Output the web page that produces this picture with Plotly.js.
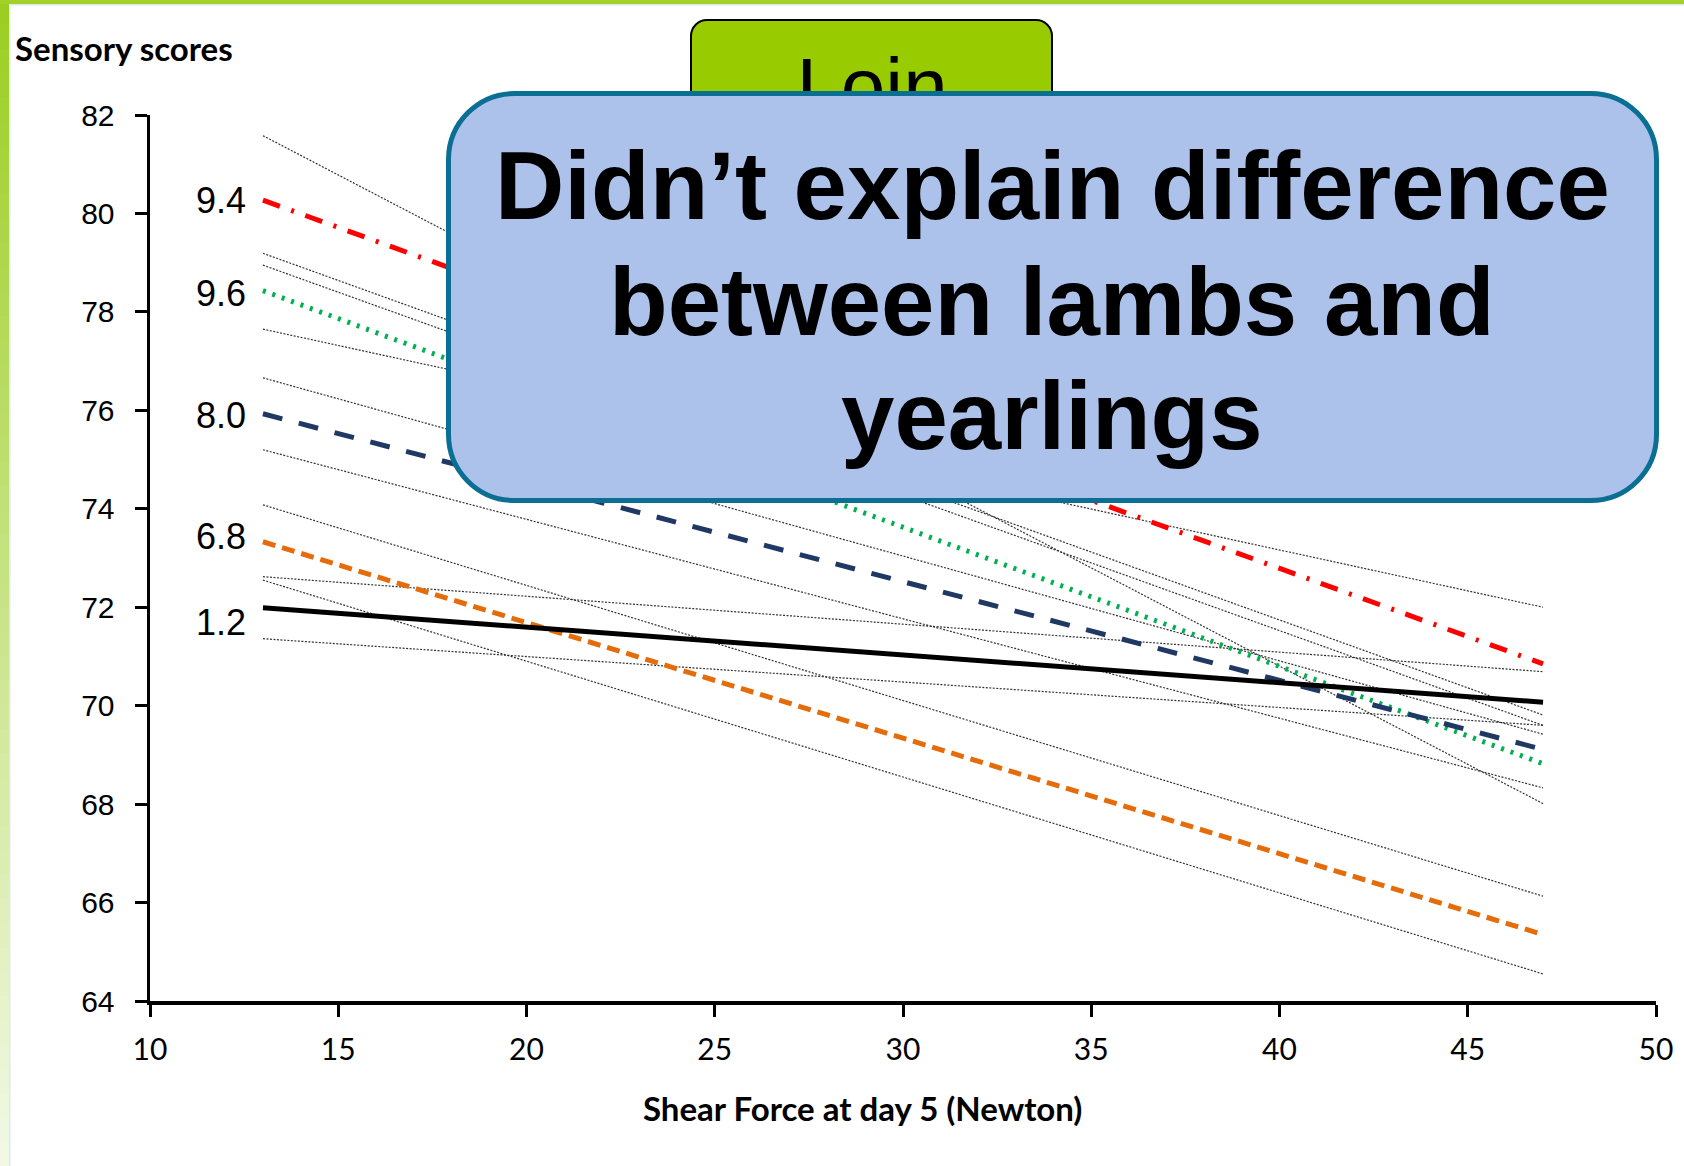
<!DOCTYPE html>
<html>
<head>
<meta charset="utf-8">
<script src="https://cdn.plot.ly/plotly-3.0.1.min.js"></script>
<style>
  html, body { margin: 0; padding: 0; background: #ffffff; }
  #chart { width: 1684px; height: 1166px; }
</style>
</head>
<body>
<div id="chart"></div>
<script>
// Shear force range covered by the regression lines (Newton)
const shearForce = [13, 47];

// Group regression lines: label, score at low and high shear force
const groupLabels = ['9.4', '9.6', '8.0', '6.8', '1.2'];
const groupStart = [80.27, 78.43, 75.93, 73.33, 71.99];
const groupEnd = [70.85, 68.82, 69.11, 65.35, 70.07];

// Individual (thin dotted) regression lines
const individualStart = [81.58, 79.19, 78.95, 77.65, 76.66, 75.20, 74.08, 72.62, 72.55, 71.36];
const individualEnd = [68.01, 69.81, 69.60, 72.00, 69.42, 68.33, 66.13, 70.69, 64.55, 69.60];

// Axis ticks
const xTicks = [10, 15, 20, 25, 30, 35, 40, 45, 50];
const yTicks = [64, 66, 68, 70, 72, 74, 76, 78, 80, 82];

// ---- styling ----
const W = 1684, H = 1166;
const M = { l: 150, r: 28, t: 115, b: 165 };
const PW = W - M.l - M.r, PH = H - M.t - M.b;
const px = x => (x - M.l) / PW;          // page pixel -> paper x
const py = y => 1 - (y - M.t) / PH;      // page pixel -> paper y

const groupStyle = [
  { color: '#ff0000', dash: '18px,12px,3px,12px', yshift: 0 },
  { color: '#00b050', dash: '3px,7px', yshift: -3 },
  { color: '#1f3864', dash: '20px,17px', yshift: -2 },
  { color: '#e46c0a', dash: '13px,7px', yshift: 5 },
  { color: '#000000', dash: 'solid', yshift: -15 }
];

const traces = [];
individualStart.forEach((s, i) => {
  traces.push({
    type: 'scatter', mode: 'lines',
    x: shearForce, y: [s, individualEnd[i]],
    line: { color: '#333333', width: 1.2, dash: '2px,1.5px' },
    hoverinfo: 'skip'
  });
});
groupLabels.forEach((lab, i) => {
  traces.push({
    type: 'scatter', mode: 'lines', name: lab,
    x: shearForce, y: [groupStart[i], groupEnd[i]],
    line: { color: groupStyle[i].color, width: 5, dash: groupStyle[i].dash }
  });
});

// Tab caption, drawn as trace text (on a hidden pixel-scaled overlay axis)
// so that the callout box can sit over its lower half
traces.push({
  type: 'scatter', mode: 'text', xaxis: 'x2', yaxis: 'y2',
  x: [872 - M.l], y: [134 - M.t], text: ['Loin'],
  textposition: 'top center', cliponaxis: false,
  textfont: { family: 'Liberation Sans, Arial', size: 80, color: '#000000' },
  hoverinfo: 'skip'
});

function roundRect(x0, y0, x1, y1, r) {
  const k = 0.5523 * r;
  const P = (x, y) => px(x) + ',' + py(y);
  return 'M' + P(x0 + r, y0) +
    ' L' + P(x1 - r, y0) +
    ' C' + P(x1 - r + k, y0) + ' ' + P(x1, y0 + r - k) + ' ' + P(x1, y0 + r) +
    ' L' + P(x1, y1 - r) +
    ' C' + P(x1, y1 - r + k) + ' ' + P(x1 - r + k, y1) + ' ' + P(x1 - r, y1) +
    ' L' + P(x0 + r, y1) +
    ' C' + P(x0 + r - k, y1) + ' ' + P(x0, y1 - r + k) + ' ' + P(x0, y1 - r) +
    ' L' + P(x0, y0 + r) +
    ' C' + P(x0, y0 + r - k) + ' ' + P(x0 + r - k, y0) + ' ' + P(x0 + r, y0) + ' Z';
}

const shapes = [];
// slide frame: green gradient strip down the left edge and a band along the top
const steps = 48;
const frameTop = [156, 206, 34], frameBottom = [242, 248, 228];
for (let s = 0; s < steps; s++) {
  const t = s / (steps - 1);
  const c = frameTop.map((v, j) => Math.round(v + (frameBottom[j] - v) * t));
  shapes.push({
    type: 'rect', xref: 'paper', yref: 'paper', layer: 'below',
    x0: px(0), x1: px(9), y0: py(H * s / steps), y1: py(H * (s + 1) / steps + 1),
    line: { width: 0 }, fillcolor: 'rgb(' + c.join(',') + ')'
  });
}
shapes.push({ type: 'rect', xref: 'paper', yref: 'paper', layer: 'below',
  x0: px(9), x1: px(10.5), y0: py(0), y1: py(H), line: { width: 0 }, fillcolor: '#dce9ef' });
shapes.push({ type: 'rect', xref: 'paper', yref: 'paper', layer: 'below',
  x0: px(0), x1: px(W), y0: py(0), y1: py(4), line: { width: 0 }, fillcolor: '#a4d02a' });
shapes.push({ type: 'rect', xref: 'paper', yref: 'paper', layer: 'below',
  x0: px(9), x1: px(W), y0: py(4), y1: py(5.5), line: { width: 0 }, fillcolor: '#dce9ef' });

// green tab behind the callout
shapes.push({ type: 'path', xref: 'paper', yref: 'paper', layer: 'below',
  path: roundRect(691, 20, 1052, 160, 16),
  fillcolor: '#99cc00', line: { color: '#000000', width: 2 } });
// callout box
shapes.push({ type: 'path', xref: 'paper', yref: 'paper', layer: 'above',
  path: roundRect(448.5, 93.5, 1656.5, 500.5, 66),
  fillcolor: '#adc2ea', line: { color: '#0b6f94', width: 5 } });

const annotations = [];
groupLabels.forEach((lab, i) => {
  annotations.push({
    xref: 'x', yref: 'y', x: shearForce[0], y: groupStart[i],
    text: lab, showarrow: false, xanchor: 'right', yanchor: 'middle',
    xshift: -15, yshift: groupStyle[i].yshift,
    font: { family: 'Liberation Sans, Arial', size: 36, color: '#000000' }
  });
});
annotations.push({
  xref: 'paper', yref: 'paper', x: px(124), y: py(48),
  text: 'Sensory scores', showarrow: false, xanchor: 'center', yanchor: 'middle',
  font: { family: 'Lato', size: 33, weight: 700, color: '#000000' }
});
annotations.push({
  xref: 'paper', yref: 'paper', x: px(862), y: py(1108),
  text: 'Shear Force at day 5 (Newton)', showarrow: false, xanchor: 'center', yanchor: 'middle',
  font: { family: 'Lato', size: 33, weight: 700, color: '#000000' }
});
const calloutLines = ['Didn’t explain difference', 'between lambs and', 'yearlings'];
const calloutCentres = [185, 301, 415];
calloutLines.forEach((t, i) => {
  annotations.push({
    xref: 'paper', yref: 'paper', x: px(1052), y: py(calloutCentres[i]),
    text: t, showarrow: false, xanchor: 'center', yanchor: 'middle',
    font: { family: 'Liberation Sans, Arial', size: 96, weight: 700, color: '#000000' }
  });
});

const axisCommon = {
  showline: true, linecolor: '#000000', linewidth: 3.5,
  ticks: 'outside', ticklen: 12, tickwidth: 3, tickcolor: '#000000',
  showgrid: false, zeroline: false, fixedrange: true
};

const layout = {
  width: W, height: H, margin: M,
  paper_bgcolor: '#ffffff', plot_bgcolor: 'rgba(0,0,0,0)',
  showlegend: false,
  xaxis: Object.assign({}, axisCommon, {
    range: [10, 50], tickvals: xTicks, ticktext: xTicks.map(String),
    tickfont: { family: 'Lato', size: 30, color: '#000000' }, ticklabelstandoff: 7
  }),
  yaxis: Object.assign({}, axisCommon, {
    range: [64, 82], tickvals: yTicks, ticktext: yTicks.map(String),
    tickfont: { family: 'Liberation Sans, Arial', size: 30, color: '#000000' }, ticklabelstandoff: 14
  }),
  xaxis2: { overlaying: 'x', anchor: 'y2', range: [0, PW], visible: false, fixedrange: true },
  yaxis2: { overlaying: 'y', anchor: 'x2', range: [PH, 0], visible: false, fixedrange: true },
  shapes: shapes,
  annotations: annotations
};

Plotly.newPlot('chart', traces, layout, { displayModeBar: false, staticPlot: true });
</script>
</body>
</html>
